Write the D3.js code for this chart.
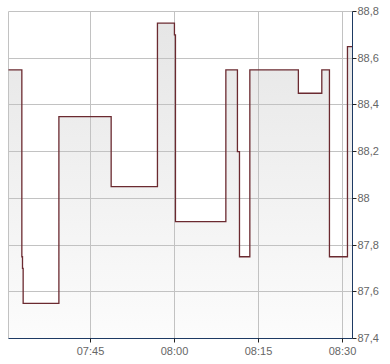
<!DOCTYPE html>
<html>
<head>
<meta charset="utf-8">
<script src="https://cdn.jsdelivr.net/npm/d3@7"></script>
<style>
  html, body { margin: 0; padding: 0; background: #fff; }
  svg { display: block; }
  .lbl { font-family: Arial, "Liberation Sans", sans-serif; font-size: 11px; fill: #666; }
</style>
</head>
<body>
<svg id="chart" width="390" height="364"></svg>
<script>
// quotes (step-after), time of change and price
var times = ["07:30:22", "07:32:45", "07:32:52", "07:32:59", "07:39:22", "07:48:42",
             "07:56:58", "08:00:00", "08:00:11", "08:09:11", "08:11:15", "08:11:37",
             "08:13:28", "08:22:08", "08:26:19", "08:27:41", "08:30:54", "08:31:48"];
var values = [88.55, 87.75, 87.70, 87.55, 88.35, 88.05,
              88.75, 88.70, 87.90, 88.55, 88.20, 87.75,
              88.55, 88.45, 88.55, 87.75, 88.65, 88.65];
var xTicks = ["07:45", "08:00", "08:15", "08:30"];
var yTicks = [87.4, 87.6, 87.8, 88.0, 88.2, 88.4, 88.6, 88.8];
var xDomain = ["07:30:22", "08:31:48"];
var yDomain = [87.4, 88.8];

var parse = d3.timeParse("%H:%M:%S");
var parseHM = d3.timeParse("%H:%M");

var svg = d3.select("#chart"),
    pLeft = 8, pRight = 352, pTop = 11, pBottom = 338;

var data = times.map(function(t, i) { return { t: parse(t), v: values[i] }; });

var x = d3.scaleTime()
    .domain(xDomain.map(parse))
    .range([pLeft, pRight]);
var y = d3.scaleLinear()
    .domain(yDomain)
    .range([pBottom, pTop]);

var defs = svg.append("defs");
var grad = defs.append("linearGradient")
    .attr("id", "fillGrad")
    .attr("gradientUnits", "userSpaceOnUse")
    .attr("x1", 0).attr("y1", pTop).attr("x2", 0).attr("y2", pBottom);
grad.append("stop").attr("offset", "0%").attr("stop-color", "#e5e5e5");
grad.append("stop").attr("offset", "100%").attr("stop-color", "#fcfcfc");

var g = svg.append("g").attr("transform", "translate(0.5,0.5)");

// area under line
var area = d3.area()
    .curve(d3.curveStepAfter)
    .x(function(d) { return x(d.t); })
    .y0(pBottom)
    .y1(function(d) { return y(d.v); });
g.append("path")
    .datum(data)
    .attr("d", area)
    .attr("fill", "url(#fillGrad)");

// grid
var grid = g.append("g").attr("stroke", "#c2c2c2").attr("stroke-width", 1);
grid.selectAll("line.h")
    .data(yTicks.slice(1))
    .enter().append("line")
    .attr("x1", pLeft).attr("x2", pRight)
    .attr("y1", function(d) { return Math.round(y(d)); })
    .attr("y2", function(d) { return Math.round(y(d)); });
grid.selectAll("line.v")
    .data(xTicks)
    .enter().append("line")
    .attr("y1", pTop).attr("y2", pBottom)
    .attr("x1", function(d) { return Math.round(x(parseHM(d))); })
    .attr("x2", function(d) { return Math.round(x(parseHM(d))); });
grid.append("line")
    .attr("x1", pLeft).attr("x2", pLeft).attr("y1", pTop).attr("y2", pBottom);

// price line
var line = d3.line()
    .curve(d3.curveStepAfter)
    .x(function(d) { return x(d.t); })
    .y(function(d) { return y(d.v); });
g.append("path")
    .datum(data)
    .attr("d", line)
    .attr("fill", "none")
    .attr("stroke", "#6b2a30")
    .attr("stroke-width", 1.3);

// axes
var axisColor = "#1d3a63";
g.append("line")
    .attr("x1", pRight).attr("x2", pRight).attr("y1", pTop).attr("y2", pBottom)
    .attr("stroke", axisColor);
g.append("line")
    .attr("x1", pLeft).attr("x2", pRight).attr("y1", pBottom).attr("y2", pBottom)
    .attr("stroke", axisColor);

var fmt = function(d) { return d3.format(".1f")(d).replace(/\.0$/, "").replace(".", ","); };

var yt = g.selectAll("g.yt")
    .data(yTicks)
    .enter().append("g")
    .attr("transform", function(d) { return "translate(" + pRight + "," + Math.round(y(d)) + ")"; });
yt.append("line").attr("x1", 0).attr("x2", 4).attr("stroke", "#222");
yt.append("text")
    .attr("class", "lbl")
    .attr("x", 5)
    .attr("dy", "0.35em")
    .text(fmt);

var xt = g.selectAll("g.xt")
    .data(xTicks)
    .enter().append("g")
    .attr("transform", function(d) { return "translate(" + Math.round(x(parseHM(d))) + "," + pBottom + ")"; });
xt.append("line").attr("y1", 0).attr("y2", 4).attr("stroke", "#222");
xt.append("text")
    .attr("class", "lbl")
    .attr("y", 16)
    .attr("text-anchor", "middle")
    .text(function(d) { return d; });
</script>
</body>
</html>
